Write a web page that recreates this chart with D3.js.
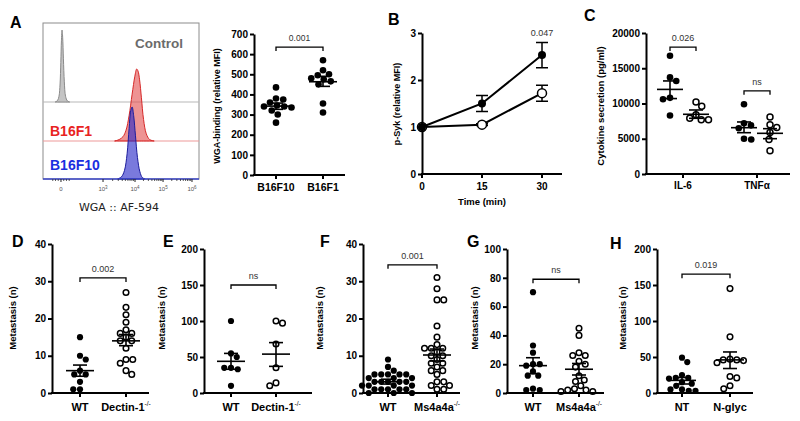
<!DOCTYPE html>
<html><head><meta charset="utf-8">
<script src="https://cdn.jsdelivr.net/npm/d3@7/dist/d3.min.js"></script>
<style>html,body{margin:0;padding:0;background:#fff;}svg{display:block;}</style>
</head><body>
<script>
// ================= DATA =================
// Panel A – flow cytometry histograms (x: display channel 0..1024, y: fraction of mode)
const ctrlChannel = [80, 95, 105, 112, 117, 121, 125, 129, 134, 140, 148, 160, 175];
const ctrlDensity = [0, 0.02, 0.08, 0.25, 0.55, 0.85, 1.0, 0.9, 0.6, 0.28, 0.08, 0.015, 0];
const f1Channel = [470, 500, 525, 545, 565, 585, 603, 615, 624, 634, 646, 660, 678, 700, 730];
const f1Density = [0, 0.02, 0.06, 0.15, 0.35, 0.65, 0.9, 1.0, 0.97, 0.85, 0.6, 0.3, 0.1, 0.02, 0];
const f10Channel = [490, 515, 535, 552, 565, 576, 585, 595, 607, 620, 636, 652, 670];
const f10Density = [0, 0.03, 0.12, 0.35, 0.7, 0.95, 1.0, 0.88, 0.6, 0.3, 0.1, 0.02, 0];
const histTickChannels = [118, 394, 604, 788, 978];
const histTickExp = [null, "3", "4", "5", "6"];
const histLabels = ["Control", "B16F1", "B16F10"];

// Panel A – WGA binding scatter
const aCategories = ["B16F10", "B16F1"];
const aB16F10 = [435, 380, 375, 360, 345, 340, 340, 335, 320, 300, 260];
const aB16F1 = [570, 520, 500, 495, 480, 475, 465, 450, 355, 310];
const aMean = [342, 463];
const aSemLo = [326, 440];
const aSemHi = [357, 490];
const aTicks = [0, 100, 200, 300, 400, 500, 600, 700];
const aP = "0.001";

// Panel B – p-Syk time course
const bTimes = [0, 15, 30];
const bTicks = [0, 1, 2, 3];
const bFilled = [1.0, 1.5, 2.53];
const bFilledErr = [0, 0.17, 0.27];
const bOpen = [1.0, 1.05, 1.72];
const bOpenErr = [0, 0.02, 0.17];
const bP = "0.047";

// Panel C – cytokine secretion
const cCategories = ["IL-6", "TNFα"];
const cTicks = [0, 5000, 10000, 15000, 20000];
const cIL6Filled = [16780, 13700, 13200, 10800, 10600, 8300];
const cIL6Open = [10200, 9600, 8400, 7900, 7700, 7700];
const cTNFFilled = [9900, 7200, 6900, 6500, 5000, 4900];
const cTNFOpen = [8100, 7000, 6600, 5900, 4900, 3300];
const cMean = [12000, 8470, 6570, 5770];
const cSemLo = [10700, 7900, 5860, 5010];
const cSemHi = [13200, 9080, 7380, 6430];
const cP = ["0.026", "ns"];

// Panel D – Dectin-1 metastasis
const dCategories = ["WT", "Dectin-1-/-"];
const dTicks = [0, 10, 20, 30, 40];
const dWT = [15, 10, 9, 6, 5, 5, 3, 1, 1];
const dKO = [27, 23, 21, 19, 17, 16, 16, 15, 14, 14, 12, 9, 9, 8, 6, 5];
const dMean = [6.0, 14.0];
const dSemLo = [4.5, 12.7];
const dSemHi = [7.5, 15.7];
const dP = "0.002";

// Panel E
const eCategories = ["WT", "Dectin-1-/-"];
const eTicks = [0, 50, 100, 150, 200];
const eWT = [100, 55, 50, 35, 35, 33, 10];
const eKO = [100, 97, 68, 35, 14, 10];
const eMean = [44, 54];
const eSemLo = [33, 37];
const eSemHi = [55, 70];
const eP = "ns";

// Panel F – Ms4a4a metastasis
const fCategories = ["WT", "Ms4a4a-/-"];
const fTicks = [0, 10, 20, 30, 40];
const fWT = [9, 7, 6, 5, 5, 5, 5, 5, 4, 4, 4, 3, 3, 3, 3, 3, 2, 2, 2, 2, 1, 1, 1, 1, 1, 0, 0, 0];
const fKO = [31, 28, 25, 25, 18, 15, 13, 12, 12, 12, 11, 10, 10, 9, 8, 8, 7, 6, 6, 5, 3, 3, 2, 2, 1, 1];
const fMean = [3.0, 10.2];
const fSemLo = [2.4, 8.6];
const fSemHi = [3.7, 11.8];
const fP = "0.001";

// Panel G
const gCategories = ["WT", "Ms4a4a-/-"];
const gTicks = [0, 20, 40, 60, 80, 100];
const gWT = [70, 33, 28, 20, 20, 19, 15, 12, 12, 3, 2, 2];
const gKO = [45, 40, 28, 26, 26, 22, 20, 18, 12, 9, 8, 5, 3, 2, 2, 1, 1];
const gMean = [19, 16.5];
const gSemLo = [13.5, 12.5];
const gSemHi = [24.5, 20.5];
const gP = "ns";

// Panel H – N-glycosylation
const hCategories = ["NT", "N-glyc"];
const hTicks = [0, 50, 100, 150, 200];
const hNT = [49, 43, 25, 21, 21, 20, 15, 13, 10, 5, 5, 3, 3];
const hNG = [145, 78, 47, 46, 46, 45, 42, 23, 21, 10, 6];
const hMean = [17.5, 46];
const hSemLo = [12.5, 34];
const hSemHi = [21.5, 57];
const hP = "0.019";

// ================= DRAWING =================
const FONT = "'Liberation Sans', Arial, Helvetica, sans-serif";
const svg = d3.select("body").append("svg")
  .attr("width", 800).attr("height", 421)
  .attr("font-family", FONT);

function swarm(vals, y, cx, r, gap) {
  const d = 2 * r + gap;
  const pts = vals.map(v => ({ v, y: y(v) })).sort((a, b) => b.v - a.v);
  const placed = [];
  let flip = 1;
  for (const p of pts) {
    let off = null;
    for (let k = 0; k < 600 && off === null; k++) {
      const s = k * 0.25;
      const cands = k === 0 ? [0] : [flip * s, -flip * s];
      for (const o of cands) {
        if (placed.every(q => (q.x - o) ** 2 + (q.y - p.y) ** 2 >= d * d)) { off = o; break; }
      }
    }
    if (off !== 0) flip = off > 0 ? -1 : 1;
    p.x = off; placed.push(p);
  }
  return pts.map(p => ({ v: p.v, x: cx + p.x, y: p.y }));
}

function letter(t, x, y) {
  svg.append("text").attr("x", x).attr("y", y).attr("font-size", 16)
    .attr("font-weight", "bold").attr("fill", "#000").text(t);
}

function yLabel(t, x, y, fs) {
  svg.append("text").attr("transform", `translate(${x},${y}) rotate(-90)`)
    .attr("text-anchor", "middle").attr("font-size", fs).attr("font-weight", "bold")
    .attr("fill", "#000").text(t);
}

function yAxis(y, ticks, x) {
  svg.append("g").attr("transform", `translate(${x},0)`)
    .call(d3.axisLeft(y).tickValues(ticks).tickSize(4).tickSizeOuter(0).tickPadding(2).tickFormat(d => d))
    .call(s => {
      s.attr("font-family", FONT).attr("font-size", 10).attr("font-weight", "bold");
      s.selectAll("path,line").attr("stroke", "#000").attr("stroke-width", 2);
      s.selectAll("text").attr("fill", "#000");
    });
}

function catLabel(t, x, y, fs) {
  const txt = svg.append("text").attr("x", x).attr("y", y).attr("text-anchor", "middle")
    .attr("font-size", fs).attr("font-weight", "bold").attr("fill", "#000");
  if (t.endsWith("-/-")) {
    txt.append("tspan").text(t.slice(0, -3));
    txt.append("tspan").attr("font-size", fs * 0.6).attr("dy", -fs * 0.42).attr("font-weight", "normal").text("-/-");
  } else txt.text(t);
}

function xAxisCats(x, cats, x0, x1, yB, labOff, fs) {
  svg.append("line").attr("x1", x0 - 1).attr("x2", x1).attr("y1", yB).attr("y2", yB)
    .attr("stroke", "#000").attr("stroke-width", 2);
  cats.forEach(c => {
    svg.append("line").attr("x1", x(c)).attr("x2", x(c)).attr("y1", yB).attr("y2", yB + 4)
      .attr("stroke", "#000").attr("stroke-width", 2);
    catLabel(c, x(c), yB + labOff, fs);
  });
}

function bracket(x1, x2, y, label, fs) {
  svg.append("path").attr("d", `M${x1},${y + 4}V${y}H${x2}V${y + 4}`)
    .attr("fill", "none").attr("stroke", "#000").attr("stroke-width", 1.3);
  svg.append("text").attr("x", (x1 + x2) / 2).attr("y", y - 6).attr("text-anchor", "middle")
    .attr("font-size", fs).attr("fill", "#333").text(label);
}

function dots(vals, y, cx, filled, r) {
  const pts = swarm(vals, y, cx, r, 0.5);
  svg.append("g").selectAll("circle").data(pts).join("circle")
    .attr("cx", d => d.x).attr("cy", d => d.y).attr("r", filled ? r : r - 0.3)
    .attr("fill", filled ? "#000" : "#fff")
    .attr("stroke", "#000").attr("stroke-width", filled ? 0 : 1.5);
}

function meanSem(y, cx, m, lo, hi, hw, cw) {
  const g = svg.append("g").attr("stroke", "#000").attr("stroke-width", 1.6);
  g.append("line").attr("x1", cx - hw).attr("x2", cx + hw).attr("y1", y(m)).attr("y2", y(m));
  g.append("line").attr("x1", cx).attr("x2", cx).attr("y1", y(lo)).attr("y2", y(hi));
  g.append("line").attr("x1", cx - cw).attr("x2", cx + cw).attr("y1", y(lo)).attr("y2", y(lo));
  g.append("line").attr("x1", cx - cw).attr("x2", cx + cw).attr("y1", y(hi)).attr("y2", y(hi));
}

// ---- generic two-group dot panel ----
function dotPanel(o) {
  const y = d3.scaleLinear().domain([0, o.ticks[o.ticks.length - 1]]).range([o.yB, o.yT]);
  const x = d3.scalePoint().domain(o.cats).range(o.catRange);
  o.groups.forEach((vals, i) => dots(vals, y, x(o.cats[i]), o.allFilled || i === 0, o.r));
  o.groups.forEach((vals, i) => meanSem(y, x(o.cats[i]), o.mean[i], o.lo[i], o.hi[i], 14, 7));
  yAxis(y, o.ticks, o.x0);
  xAxisCats(x, o.cats, o.x0, o.x1, o.yB, o.labOff, o.catFs);
  bracket(x(o.cats[0]), x(o.cats[1]), y(o.bracketV), o.p, o.pFs);
  yLabel(o.ylab, o.ylx, o.yly, o.ylFs);
  if (o.letter) letter(o.letter, o.lx, o.ly);
}

// ===== Panel A: histograms =====
(function () {
  const bx0 = 43, bx1 = 199, bTop = 23, bBot = 179;
  const hx = d3.scaleLinear().domain([0, 1024]).range([bx0, bx1]);
  const peakH = 72;
  const base = [102, 141, 179];
  const g = svg.append("g");
  g.append("rect").attr("x", bx0).attr("y", bTop).attr("width", bx1 - bx0).attr("height", bBot - bTop)
    .attr("fill", "#fff").attr("stroke", "#8c8c8c").attr("stroke-width", 1);

  function peak(ch, den, b, fill, stroke) {
    const pts = ch.map((c, i) => [c, den[i]]);
    const area = d3.area().x(d => hx(d[0])).y0(b).y1(d => b - d[1] * peakH).curve(d3.curveCatmullRom.alpha(0.5));
    g.append("path").attr("d", area(pts)).attr("fill", fill).attr("stroke", stroke).attr("stroke-width", 1);
  }
  g.append("line").attr("x1", bx0).attr("x2", bx1).attr("y1", base[0]).attr("y2", base[0]).attr("stroke", "#b8b8b8").attr("stroke-width", 1.2);
  g.append("line").attr("x1", bx0).attr("x2", bx1).attr("y1", base[1]).attr("y2", base[1]).attr("stroke", "#ee9a9a").attr("stroke-width", 1.2);
  peak(ctrlChannel, ctrlDensity, base[0], "#c4c4c4", "#8a8a8a");
  peak(f1Channel, f1Density, base[1], "rgba(228,80,80,0.62)", "#d62828");
  peak(f10Channel, f10Density, base[2], "rgba(40,40,200,0.62)", "#1c1c9c");
  g.append("line").attr("x1", bx0).attr("x2", bx1).attr("y1", bBot).attr("y2", bBot).attr("stroke", "#3a44c8").attr("stroke-width", 1.6);

  histTickChannels.forEach(c => {
    g.append("line").attr("x1", hx(c)).attr("x2", hx(c)).attr("y1", bBot).attr("y2", bBot + 3).attr("stroke", "#222").attr("stroke-width", 1);
  });
  for (let d = 1; d < histTickChannels.length - 1; d++) {
    for (let m = 2; m <= 9; m++) {
      const c = histTickChannels[d] + Math.log10(m) * (histTickChannels[d + 1] - histTickChannels[d]);
      g.append("line").attr("x1", hx(c)).attr("x2", hx(c)).attr("y1", bBot).attr("y2", bBot + 2).attr("stroke", "#333").attr("stroke-width", 0.8);
    }
  }
  [-3, -2, -1, 1, 2, 3].forEach(k => {
    const c = histTickChannels[0] + k * 18;
    g.append("line").attr("x1", hx(c)).attr("x2", hx(c)).attr("y1", bBot).attr("y2", bBot + 2).attr("stroke", "#333").attr("stroke-width", 0.8);
  });
  histTickChannels.forEach((c, i) => {
    const t = g.append("text").attr("x", hx(c)).attr("y", 191).attr("text-anchor", "middle")
      .attr("font-size", 6).attr("fill", "#555");
    if (histTickExp[i] === null) t.text("0");
    else { t.append("tspan").text("10"); t.append("tspan").attr("font-size", 4.5).attr("dy", -2.5).text(histTickExp[i]); }
  });
  g.append("text").attr("x", 119).attr("y", 211).attr("text-anchor", "middle")
    .attr("fill", "#222").attr("font-family", "'DejaVu Sans', sans-serif")
    .attr("font-size", 11).text("WGA :: AF-594");
  g.append("text").attr("x", 183).attr("y", 48).attr("text-anchor", "end").attr("font-size", 13.5)
    .attr("font-weight", "bold").attr("fill", "#6b6b6b").text(histLabels[0]);
  g.append("text").attr("x", 50).attr("y", 135.5).attr("font-size", 14)
    .attr("font-weight", "bold").attr("fill", "#e8231f").text(histLabels[1]);
  g.append("text").attr("x", 50).attr("y", 170).attr("font-size", 14)
    .attr("font-weight", "bold").attr("fill", "#1a2ee0").text(histLabels[2]);
  letter("A", 10, 28);
})();

// ===== Panel A: scatter =====
dotPanel({
  x0: 254, x1: 345, yB: 175, yT: 34, ticks: aTicks, cats: aCategories, catRange: [276, 323],
  groups: [aB16F10, aB16F1], allFilled: true, mean: aMean, lo: aSemLo, hi: aSemHi, r: 3.3,
  labOff: 15.5, catFs: 10.5, bracketV: 635, p: aP, pFs: 8.5,
  ylab: "WGA-binding (relative MFI)", ylx: 220, yly: 106, ylFs: 9
});

// ===== Panel B =====
(function () {
  const x = d3.scaleLinear().domain([0, 35]).range([422, 562]);
  const y = d3.scaleLinear().domain([0, 3]).range([174, 33]);
  const line = d3.line().x((d, i) => x(bTimes[i])).y(d => y(d));
  const g = svg.append("g");
  function series(vals, err, filled) {
    g.append("path").attr("d", line(vals)).attr("fill", "none").attr("stroke", "#000").attr("stroke-width", 2);
    vals.forEach((v, i) => {
      if (err[i] > 0) {
        const cx = x(bTimes[i]);
        g.append("path").attr("d", `M${cx - 6},${y(v + err[i])}H${cx + 6}M${cx},${y(v + err[i])}V${y(v - err[i])}M${cx - 6},${y(v - err[i])}H${cx + 6}`)
          .attr("stroke", "#000").attr("stroke-width", 1.5).attr("fill", "none");
      }
    });
    g.selectAll(null).data(vals).join("circle")
      .attr("cx", (d, i) => x(bTimes[i])).attr("cy", d => y(d)).attr("r", filled ? 4 : 4.5)
      .attr("fill", filled ? "#000" : "#fff").attr("stroke", "#000").attr("stroke-width", filled ? 0 : 1.5);
  }
  series(bOpen, bOpenErr, false);
  series(bFilled, bFilledErr, true);
  yAxis(y, bTicks, 422);
  svg.append("line").attr("x1", 421).attr("x2", 562).attr("y1", 174).attr("y2", 174).attr("stroke", "#000").attr("stroke-width", 2);
  bTimes.forEach(t => {
    svg.append("line").attr("x1", x(t)).attr("x2", x(t)).attr("y1", 174).attr("y2", 178).attr("stroke", "#000").attr("stroke-width", 2);
    svg.append("text").attr("x", x(t)).attr("y", 190).attr("text-anchor", "middle").attr("font-size", 10)
      .attr("font-weight", "bold").text(t);
  });
  svg.append("text").attr("x", 482).attr("y", 205).attr("text-anchor", "middle").attr("font-size", 9.5)
    .attr("font-weight", "bold").text("Time (min)");
  svg.append("text").attr("x", x(30)).attr("y", 36).attr("text-anchor", "middle").attr("font-size", 9)
    .attr("fill", "#333").text(bP);
  yLabel("p-Syk (relative MFI)", 400, 104, 9);
  letter("B", 388, 25);
})();

// ===== Panel C =====
(function () {
  const y = d3.scaleLinear().domain([0, 20000]).range([174, 33]);
  const x = d3.scalePoint().domain(cCategories).range([683, 757]);
  const groups = [cIL6Filled, cIL6Open, cTNFFilled, cTNFOpen];
  const gx = [x(cCategories[0]) - 13, x(cCategories[0]) + 13, x(cCategories[1]) - 13, x(cCategories[1]) + 13];
  groups.forEach((vals, i) => dots(vals, y, gx[i], i % 2 === 0, 3.3));
  groups.forEach((vals, i) => meanSem(y, gx[i], cMean[i], cSemLo[i], cSemHi[i], 13, 7));
  yAxis(y, cTicks, 646);
  xAxisCats(x, cCategories, 646, 790, 174, 15, 10);
  bracket(gx[0], gx[1], y(18000), cP[0], 9);
  bracket(gx[2], gx[3], y(11800), cP[1], 9);
  yLabel("Cytokine secretion (pg/ml)", 604, 106, 9.5);
  letter("C", 584, 21);
})();

// ===== Panels D–H =====
const METLAB = "Metastasis (n)";
dotPanel({ x0: 52, x1: 149, yB: 393, yT: 244, ticks: dTicks, cats: dCategories, catRange: [80, 126],
  groups: [dWT, dKO], mean: dMean, lo: dSemLo, hi: dSemHi, r: 3.1, labOff: 18, catFs: 11,
  bracketV: 30.9, p: dP, pFs: 9, ylab: METLAB, ylx: 16, yly: 318, ylFs: 9.5, letter: "D", lx: 12, ly: 247 });
dotPanel({ x0: 204, x1: 312, yB: 393, yT: 249, ticks: eTicks, cats: eCategories, catRange: [231, 276],
  groups: [eWT, eKO], mean: eMean, lo: eSemLo, hi: eSemHi, r: 3.1, labOff: 18, catFs: 11,
  bracketV: 150, p: eP, pFs: 9, ylab: METLAB, ylx: 165, yly: 318, ylFs: 9.5, letter: "E", lx: 163, ly: 247 });
dotPanel({ x0: 363, x1: 460, yB: 393, yT: 244, ticks: fTicks, cats: fCategories, catRange: [388, 437],
  groups: [fWT, fKO], mean: fMean, lo: fSemLo, hi: fSemHi, r: 3.1, labOff: 18, catFs: 11,
  bracketV: 34.4, p: fP, pFs: 9, ylab: METLAB, ylx: 323, yly: 318, ylFs: 9.5, letter: "F", lx: 320, ly: 247 });
dotPanel({ x0: 507, x1: 604, yB: 393, yT: 249, ticks: gTicks, cats: gCategories, catRange: [533, 579],
  groups: [gWT, gKO], mean: gMean, lo: gSemLo, hi: gSemHi, r: 3.1, labOff: 18, catFs: 11,
  bracketV: 79, p: gP, pFs: 9, ylab: METLAB, ylx: 478, yly: 318, ylFs: 9.5, letter: "G", lx: 467, ly: 247 });
dotPanel({ x0: 657, x1: 753, yB: 393, yT: 249, ticks: hTicks, cats: hCategories, catRange: [682, 730],
  groups: [hNT, hNG], mean: hMean, lo: hSemLo, hi: hSemHi, r: 3.1, labOff: 18, catFs: 11,
  bracketV: 165, p: hP, pFs: 9, ylab: METLAB, ylx: 626, yly: 318, ylFs: 9.5, letter: "H", lx: 610, ly: 249 });
</script>
</body></html>
